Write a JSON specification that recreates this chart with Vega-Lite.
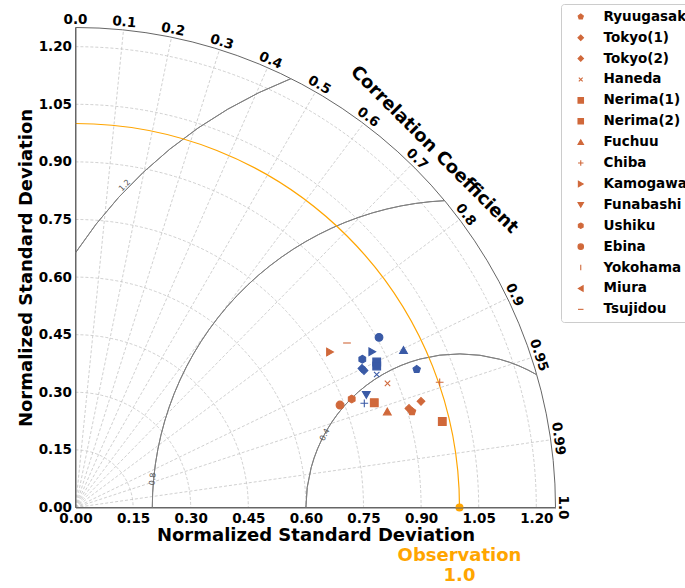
{
  "$schema": "https://vega.github.io/schema/vega-lite/v6.json",
  "width": 480,
  "height": 480,
  "autosize": {"type": "none"},
  "padding": {"left": 75.5, "top": 27.5, "right": 129.5, "bottom": 80.5},
  "background": "white",
  "config": {
    "view": {"stroke": null},
    "font": "DejaVu Sans",
    "legend": {"symbolBaseFillColor": "#D0683A", "symbolBaseStrokeColor": "#D0683A"}
  },
  "encoding": {
    "x": {
      "field": "x", "type": "quantitative",
      "scale": {"domain": [0, 1.25], "nice": false, "zero": true},
      "axis": {
        "title": "Normalized Standard Deviation",
        "values": [0, 0.15, 0.3, 0.45, 0.6, 0.75, 0.9, 1.05, 1.2],
        "format": ".2f", "grid": false, "ticks": false,
        "labelFont": "DejaVu Sans", "labelFontWeight": "bold", "labelFontSize": 13.5, "labelColor": "black",
        "labelPadding": 4, "labelFlush": false, "labelOverlap": false,
        "titleFont": "DejaVu Sans", "titleFontSize": 18, "titleFontWeight": "bold", "titleColor": "black", "titlePadding": 1,
        "domainColor": "#666666", "domainWidth": 1, "zindex": 1
      }
    },
    "y": {
      "field": "y", "type": "quantitative",
      "scale": {"domain": [0, 1.25], "nice": false, "zero": true},
      "axis": {
        "title": "Normalized Standard Deviation",
        "values": [0, 0.15, 0.3, 0.45, 0.6, 0.75, 0.9, 1.05, 1.2],
        "format": ".2f", "grid": false, "ticks": false,
        "labelFont": "DejaVu Sans", "labelFontWeight": "bold", "labelFontSize": 13.5, "labelColor": "black",
        "labelPadding": 4, "labelFlush": false, "labelOverlap": false,
        "titleFont": "DejaVu Sans", "titleFontSize": 18, "titleFontWeight": "bold", "titleColor": "black", "titlePadding": 3,
        "domainColor": "#666666", "domainWidth": 1, "zindex": 1
      }
    }
  },
  "layer": [
    {
      "data": {"values": [
        {"r": 0.15, "x": 0, "y": 0}, {"r": 0.3, "x": 0, "y": 0}, {"r": 0.45, "x": 0, "y": 0},
        {"r": 0.6, "x": 0, "y": 0}, {"r": 0.75, "x": 0, "y": 0}, {"r": 0.9, "x": 0, "y": 0},
        {"r": 1.05, "x": 0, "y": 0}, {"r": 1.2, "x": 0, "y": 0}
      ]},
      "mark": {"type": "arc", "theta": 0, "theta2": 1.5708, "filled": false, "stroke": "#c4c4c4", "strokeWidth": 0.8, "strokeDash": [3, 2]},
      "encoding": {
        "radius": {"field": "r", "type": "quantitative", "stack": null, "scale": {"type": "linear", "domain": [0, 1.25], "range": [0, 480], "zero": true}}
      }
    },
    {
      "data": {"values": [
        {"c": 0.1, "x": 0, "y": 0, "x2": 0.125, "y2": 1.2437},
        {"c": 0.2, "x": 0, "y": 0, "x2": 0.25, "y2": 1.2247},
        {"c": 0.3, "x": 0, "y": 0, "x2": 0.375, "y2": 1.1924},
        {"c": 0.4, "x": 0, "y": 0, "x2": 0.5, "y2": 1.1456},
        {"c": 0.5, "x": 0, "y": 0, "x2": 0.625, "y2": 1.0825},
        {"c": 0.6, "x": 0, "y": 0, "x2": 0.75, "y2": 1.0},
        {"c": 0.7, "x": 0, "y": 0, "x2": 0.875, "y2": 0.8927},
        {"c": 0.8, "x": 0, "y": 0, "x2": 1.0, "y2": 0.75},
        {"c": 0.9, "x": 0, "y": 0, "x2": 1.125, "y2": 0.5449},
        {"c": 0.95, "x": 0, "y": 0, "x2": 1.1875, "y2": 0.3903},
        {"c": 0.99, "x": 0, "y": 0, "x2": 1.2375, "y2": 0.1763}
      ]},
      "mark": {"type": "rule", "stroke": "#c4c4c4", "strokeWidth": 0.8, "strokeDash": [3, 2]},
      "encoding": {"x2": {"field": "x2"}, "y2": {"field": "y2"}}
    },
    {
      "data": {"values": [{"r": 1.25, "x": 0, "y": 0}]},
      "mark": {"type": "arc", "theta": 0, "theta2": 1.5708, "filled": false, "stroke": "#666666", "strokeWidth": 1},
      "encoding": {
        "radius": {"field": "r", "type": "quantitative", "stack": null, "scale": {"type": "linear", "domain": [0, 1.25], "range": [0, 480], "zero": true}}
      }
    },
    {
      "data": {"values": [{"r": 0.4, "x": 1, "y": 0}]},
      "mark": {"type": "arc", "theta": -1.5708, "theta2": 0.5273, "filled": false, "stroke": "#808080", "strokeWidth": 1},
      "encoding": {
        "radius": {"field": "r", "type": "quantitative", "stack": null, "scale": {"type": "linear", "domain": [0, 1.25], "range": [0, 480], "zero": true}},
        "radius2": {"field": "r"}
      }
    },
    {
      "data": {"values": [{"r": 0.8, "x": 1, "y": 0}]},
      "mark": {"type": "arc", "theta": -1.5708, "theta2": -0.0485, "filled": false, "stroke": "#808080", "strokeWidth": 1},
      "encoding": {
        "radius": {"field": "r", "type": "quantitative", "stack": null, "scale": {"type": "linear", "domain": [0, 1.25], "range": [0, 480], "zero": true}},
        "radius2": {"field": "r"}
      }
    },
    {
      "data": {"values": [{"r": 1.2, "x": 1, "y": 0}]},
      "mark": {"type": "arc", "theta": -0.9853, "theta2": -0.3742, "filled": false, "stroke": "#808080", "strokeWidth": 1},
      "encoding": {
        "radius": {"field": "r", "type": "quantitative", "stack": null, "scale": {"type": "linear", "domain": [0, 1.25], "range": [0, 480], "zero": true}},
        "radius2": {"field": "r"}
      }
    },
    {
      "data": {"values": [{"r": 1.0, "x": 0, "y": 0}]},
      "mark": {"type": "arc", "theta": 0, "theta2": 1.5708, "filled": false, "stroke": "#FFA500", "strokeWidth": 1.2},
      "encoding": {
        "radius": {"field": "r", "type": "quantitative", "stack": null, "scale": {"type": "linear", "domain": [0, 1.25], "range": [0, 480], "zero": true}},
        "radius2": {"field": "r"}
      }
    },
    {
      "data": {"values": [
        {"lab": "0.4", "x": 0.65, "y": 0.189, "a": -62},
        {"lab": "0.8", "x": 0.202, "y": 0.074, "a": -85},
        {"lab": "1.2", "x": 0.129, "y": 0.838, "a": -46}
      ]},
      "mark": {"type": "text", "fontSize": 8, "color": "#555555", "align": "center", "baseline": "middle"},
      "encoding": {"text": {"field": "lab"}, "angle": {"field": "a", "type": "quantitative", "scale": null}}
    },
    {
      "data": {"values": [
        {"station": "Ryuugasaki", "run": "A", "x": 0.8763, "y": 0.2500},
        {"station": "Tokyo(1)", "run": "A", "x": 0.8997, "y": 0.2766},
        {"station": "Tokyo(2)", "run": "A", "x": 0.8685, "y": 0.2578},
        {"station": "Haneda", "run": "A", "x": 0.8125, "y": 0.3234},
        {"station": "Nerima(1)", "run": "A", "x": 0.7781, "y": 0.2729},
        {"station": "Nerima(2)", "run": "A", "x": 0.9552, "y": 0.2240},
        {"station": "Fuchuu", "run": "A", "x": 0.8120, "y": 0.2500},
        {"station": "Chiba", "run": "A", "x": 0.9484, "y": 0.3260},
        {"station": "Kamogawa", "run": "A", "x": 0.6628, "y": 0.4049},
        {"station": "Ushiku", "run": "A", "x": 0.7193, "y": 0.2826},
        {"station": "Ebina", "run": "A", "x": 0.6888, "y": 0.2669},
        {"station": "Tsujidou", "run": "A", "x": 0.7070, "y": 0.4284},
        {"station": "Ryuugasaki", "run": "B", "x": 0.8885, "y": 0.3599},
        {"station": "Tokyo(1)", "run": "B", "x": 0.7461, "y": 0.3620},
        {"station": "Tokyo(2)", "run": "B", "x": 0.7513, "y": 0.3568},
        {"station": "Haneda", "run": "B", "x": 0.7844, "y": 0.3464},
        {"station": "Nerima(1)", "run": "B", "x": 0.7844, "y": 0.3789},
        {"station": "Nerima(2)", "run": "B", "x": 0.7844, "y": 0.3685},
        {"station": "Fuchuu", "run": "B", "x": 0.8542, "y": 0.4102},
        {"station": "Chiba", "run": "B", "x": 0.7521, "y": 0.2714},
        {"station": "Kamogawa", "run": "B", "x": 0.7729, "y": 0.4057},
        {"station": "Funabashi", "run": "B", "x": 0.7573, "y": 0.2930},
        {"station": "Ushiku", "run": "B", "x": 0.7469, "y": 0.3862},
        {"station": "Ebina", "run": "B", "x": 0.7904, "y": 0.4432}
      ]},
      "mark": {"type": "point", "filled": true, "size": 60, "opacity": 1, "strokeWidth": 1.1},
      "encoding": {
        "shape": {
          "field": "station", "type": "nominal",
          "scale": {
            "domain": ["Ryuugasaki", "Tokyo(1)", "Tokyo(2)", "Haneda", "Nerima(1)", "Nerima(2)", "Fuchuu", "Chiba", "Kamogawa", "Funabashi", "Ushiku", "Ebina", "Yokohama", "Miura", "Tsujidou"],
            "range": [
              "M0,-1L0.951,-0.309L0.588,0.809L-0.588,0.809L-0.951,-0.309Z",
              "diamond", "diamond",
              "M-0.7,-0.7L0.7,0.7M-0.7,0.7L0.7,-0.7",
              "square", "square", "triangle-up",
              "M-1,0L1,0M0,-1L0,1",
              "triangle-right", "triangle-down",
              "M0,-1L0.866,-0.5L0.866,0.5L0,1L-0.866,0.5L-0.866,-0.5Z",
              "circle",
              "M0,-1L0,1",
              "triangle-left",
              "M-1,0L1,0"
            ]
          },
          "legend": {
            "title": null, "orient": "none", "legendX": 485.5, "legendY": -23.5,
            "padding": 6, "strokeColor": "#cccccc", "fillColor": "white", "cornerRadius": 3,
            "labelFont": "DejaVu Sans", "labelFontWeight": "bold", "labelFontSize": 13.5, "labelColor": "black",
            "symbolSize": 30, "symbolFillColor": "#D0683A", "symbolStrokeColor": "#D0683A", "symbolStrokeWidth": 1.1,
            "symbolOffset": 7, "labelOffset": 16, "rowPadding": 5.9
          }
        },
        "color": {"field": "run", "type": "nominal", "scale": {"domain": ["A", "B"], "range": ["#D0683A", "#3A5AA6"]}, "legend": null},
        "stroke": {"field": "run", "type": "nominal", "scale": {"domain": ["A", "B"], "range": ["#D0683A", "#3A5AA6"]}, "legend": null}
      }
    },
    {
      "data": {"values": [{"x": 1.0, "y": 0}]},
      "mark": {"type": "point", "filled": true, "size": 36, "fill": "#FFA500", "stroke": "#FFA500", "opacity": 1, "clip": false}
    },
    {
      "data": {"values": [
        {"label": "0.0", "x": 0, "y": 1.27, "a": 0},
        {"label": "0.1", "x": 0.127, "y": 1.2636, "a": 5.74},
        {"label": "0.2", "x": 0.254, "y": 1.2443, "a": 11.54},
        {"label": "0.3", "x": 0.381, "y": 1.2115, "a": 17.46},
        {"label": "0.4", "x": 0.508, "y": 1.164, "a": 23.58},
        {"label": "0.5", "x": 0.635, "y": 1.0999, "a": 30},
        {"label": "0.6", "x": 0.762, "y": 1.016, "a": 36.87},
        {"label": "0.7", "x": 0.889, "y": 0.907, "a": 44.43},
        {"label": "0.8", "x": 1.016, "y": 0.762, "a": 53.13},
        {"label": "0.9", "x": 1.143, "y": 0.5536, "a": 64.16},
        {"label": "0.95", "x": 1.2065, "y": 0.3966, "a": 71.81},
        {"label": "0.99", "x": 1.2573, "y": 0.1792, "a": 81.89},
        {"label": "1.0", "x": 1.27, "y": 0, "a": 90}
      ]},
      "mark": {"type": "text", "font": "DejaVu Sans", "fontWeight": "bold", "fontSize": 13.5, "fill": "black", "align": "center", "baseline": "middle"},
      "encoding": {"text": {"field": "label"}, "angle": {"field": "a", "type": "quantitative", "scale": null}}
    },
    {
      "data": {"values": [
        {"t": "Correlation Coefficient", "x": 0.934, "y": 0.931}
      ]},
      "mark": {"type": "text", "font": "DejaVu Sans", "fontWeight": "bold", "fontSize": 18, "fill": "black", "align": "center", "baseline": "middle", "angle": 45},
      "encoding": {"text": {"field": "t"}}
    },
    {
      "data": {"values": [
        {"t": "Observation", "x": 1.0, "y": -0.1263},
        {"t": "1.0", "x": 1.0, "y": -0.1784}
      ]},
      "mark": {"type": "text", "font": "DejaVu Sans", "fontWeight": "bold", "fontSize": 18, "fill": "#FFA500", "align": "center", "baseline": "middle"},
      "encoding": {"text": {"field": "t"}}
    }
  ]
}
